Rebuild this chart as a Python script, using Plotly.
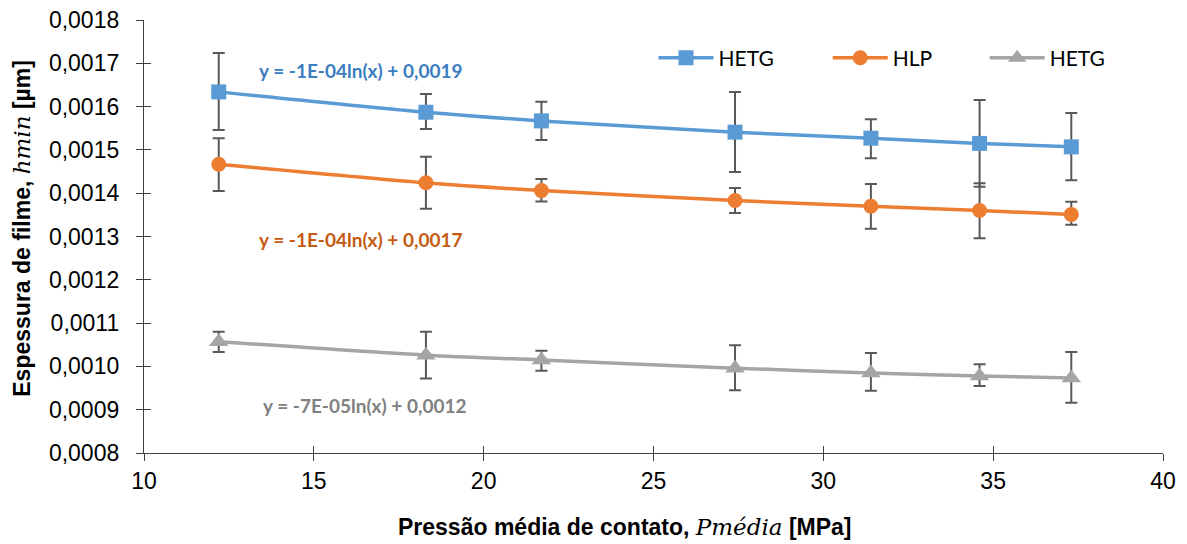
import plotly.graph_objects as go

# ---- data ----
pressao = [12.2, 18.3, 21.7, 27.4, 31.4, 34.6, 37.3]

hetg_a = [0.001634, 0.001587, 0.001567, 0.001541, 0.001527, 0.001515, 0.001507]
hetg_a_err_plus = [0.000090, 0.000042, 0.000044, 0.000093, 0.000044, 0.000100, 0.000078]
hetg_a_err_minus = [0.000088, 0.000039, 0.000044, 0.000092, 0.000046, 0.000100, 0.000077]

hlp = [0.001467, 0.001424, 0.001406, 0.001383, 0.001370, 0.001360, 0.001351]
hlp_err_plus = [0.000060, 0.000060, 0.000027, 0.000029, 0.000051, 0.000063, 0.000029]
hlp_err_minus = [0.000062, 0.000060, 0.000025, 0.000029, 0.000052, 0.000064, 0.000024]

hetg_b = [0.001057, 0.001026, 0.001015, 0.000996, 0.000985, 0.000978, 0.000973]
hetg_b_err_plus = [0.000023, 0.000054, 0.000021, 0.000053, 0.000046, 0.000027, 0.000060]
hetg_b_err_minus = [0.000024, 0.000054, 0.000025, 0.000051, 0.000041, 0.000023, 0.000057]

series_names = ["HETG", "HLP", "HETG"]
equations = ["y = -1E-04ln(x) + 0,0019", "y = -1E-04ln(x) + 0,0017", "y = -7E-05ln(x) + 0,0012"]
x_ticks = [10, 15, 20, 25, 30, 35, 40]
y_ticks = [0.0008, 0.0009, 0.0010, 0.0011, 0.0012, 0.0013, 0.0014, 0.0015, 0.0016, 0.0017, 0.0018]

colors = ["#5b9bd5", "#ed7d31", "#a5a5a5"]
eq_colors = ["#3b7dc1", "#c55a11", "#808080"]
symbols = ["square", "circle", "triangle-up"]
err_color = "#595959"

fig = go.Figure()
data = [
    (hetg_a, hetg_a_err_plus, hetg_a_err_minus),
    (hlp, hlp_err_plus, hlp_err_minus),
    (hetg_b, hetg_b_err_plus, hetg_b_err_minus),
]
legend_ids = ["legend", "legend2", "legend3"]
for i, (yv, ep, em) in enumerate(data):
    fig.add_trace(go.Scatter(
        x=pressao, y=yv, name=series_names[i], mode="lines+markers",
        line=dict(color=colors[i], width=3.5, shape="spline", smoothing=0.8),
        marker=dict(symbol=symbols[i], size=15 if i != 2 else 17, color=colors[i]),
        error_y=dict(type="data", array=ep, arrayminus=em, symmetric=False,
                     color=err_color, thickness=2, width=6),
        legend=legend_ids[i],
    ))

# invisible overlay axes to make "cross" tick marks
fig.add_trace(go.Scatter(x=[x_ticks[0]], y=[y_ticks[0]], xaxis="x2", yaxis="y2",
                         mode="markers", marker=dict(opacity=0), showlegend=False,
                         hoverinfo="skip"))

tick_font = dict(family="Liberation Sans, Arial", size=23, color="#000000")
axis_common = dict(showgrid=False, zeroline=False, showline=True, linecolor="#404040",
                   linewidth=1.3, ticks="outside", ticklen=7, tickcolor="#404040",
                   tickwidth=1.3, tickfont=tick_font, automargin=False)

fig.update_layout(
    width=1187, height=544,
    margin=dict(l=144, r=24, t=20, b=91, autoexpand=False),
    paper_bgcolor="white", plot_bgcolor="white",
    separators=",.",
    xaxis=dict(range=[10, 40], tickvals=x_ticks, ticklabelstandoff=0, **axis_common),
    yaxis=dict(range=[0.0008, 0.0018], tickvals=y_ticks, tickformat=".4f",
               ticklabelstandoff=12, **axis_common),
    xaxis2=dict(range=[10, 40], tickvals=x_ticks, overlaying="x", anchor="y2",
                showticklabels=False, ticks="inside", ticklen=7, tickcolor="#404040",
                tickwidth=1.3, showgrid=False, zeroline=False, showline=False),
    yaxis2=dict(range=[0.0008, 0.0018], tickvals=y_ticks, overlaying="y", anchor="x2",
                showticklabels=False, ticks="inside", ticklen=7, tickcolor="#404040",
                tickwidth=1.3, showgrid=False, zeroline=False, showline=False),
    showlegend=True,
)

leg_font = dict(family="Lato, Carlito, Calibri", size=21, color="#000000")
leg_x = [0.500, 0.671, 0.825]
leg_y = 0.912
fig.update_layout(
    legend=dict(x=leg_x[0], y=leg_y, xanchor="left", yanchor="middle", orientation="h",
                font=leg_font, itemwidth=55, bgcolor="rgba(0,0,0,0)"),
    legend2=dict(x=leg_x[1], y=leg_y, xanchor="left", yanchor="middle", orientation="h",
                 font=leg_font, itemwidth=55, bgcolor="rgba(0,0,0,0)"),
    legend3=dict(x=leg_x[2], y=leg_y, xanchor="left", yanchor="middle", orientation="h",
                 font=leg_font, itemwidth=55, bgcolor="rgba(0,0,0,0)"),
)

# equation labels
eq_pos = [(16.4, 0.0016845), (16.4, 0.001292), (16.5, 0.000909)]
for i, (ex, ey) in enumerate(eq_pos):
    fig.add_annotation(x=ex, y=ey, xref="x", yref="y", text="<b>" + equations[i] + "</b>",
                       showarrow=False, font=dict(family="Lato, Carlito, Calibri", size=19,
                                                  color=eq_colors[i]))

math = "font-family:'DejaVu Serif', serif; font-style:italic; font-weight:normal"
fig.add_annotation(
    x=(625 - 144) / 1019, y=-0.17, xref="paper", yref="paper", showarrow=False,
    yanchor="middle",
    text="<b>Pressão média de contato, </b><span style=\"" + math + "\">Pmédia</span><b> [MPa]</b>",
    font=dict(family="Liberation Sans, Arial", size=23, color="#000000"))
fig.add_annotation(
    x=-0.12, y=(453 - 228) / 433, xref="paper", yref="paper", showarrow=False,
    xanchor="center", yanchor="middle", textangle=-90,
    text="<b>Espessura de filme, </b><span style=\"" + math + "\">hmin</span><b> [µm]</b>",
    font=dict(family="Liberation Sans, Arial", size=23, color="#000000"))

fig.write_html("out.html")
